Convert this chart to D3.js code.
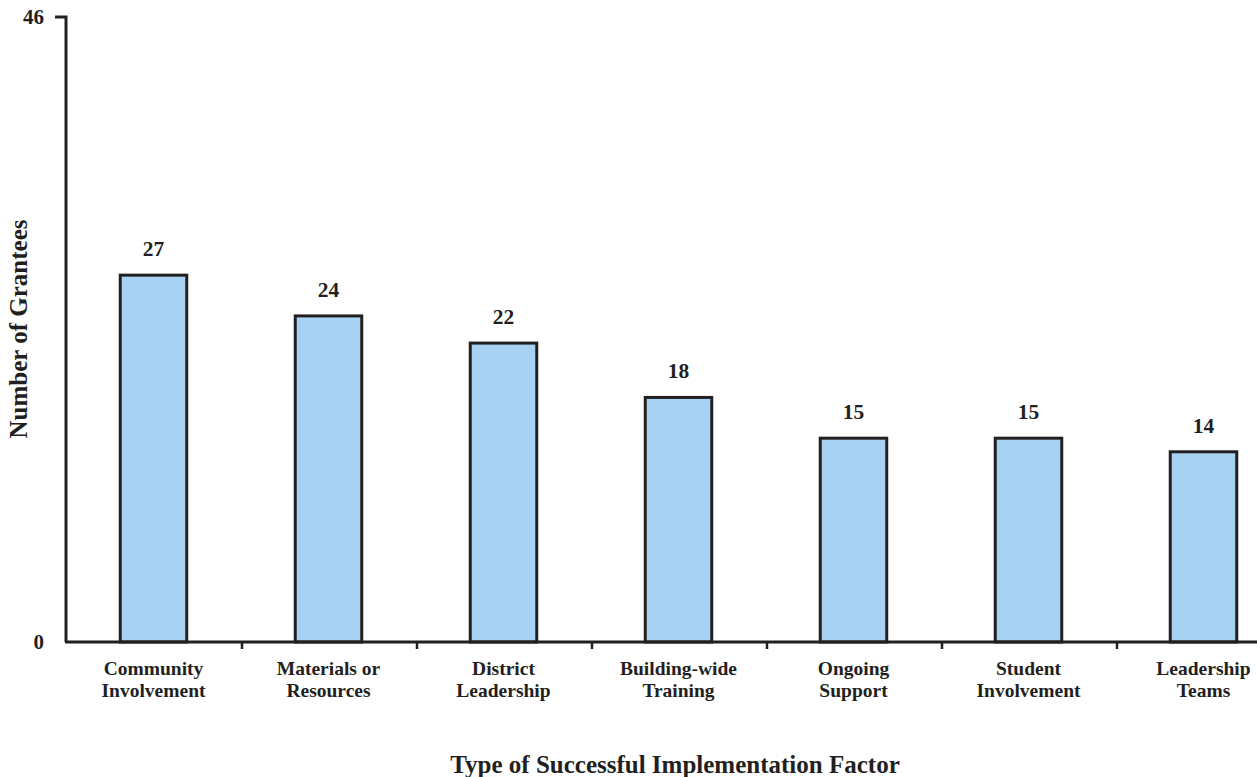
<!DOCTYPE html>
<html>
<head>
<meta charset="utf-8">
<script src="https://cdn.jsdelivr.net/npm/d3@7/dist/d3.min.js"></script>
<style>
  html, body { margin: 0; padding: 0; background: #ffffff; }
  svg { display: block; }
  text { font-family: "Liberation Serif", "Times New Roman", serif; font-weight: bold; fill: #231f20; }
</style>
</head>
<body>
<svg id="chart" width="1257" height="777"></svg>
<script>
// Successful implementation factors reported by grantees
const categories = [
  ["Community", "Involvement"],
  ["Materials or", "Resources"],
  ["District", "Leadership"],
  ["Building-wide", "Training"],
  ["Ongoing", "Support"],
  ["Student", "Involvement"],
  ["Leadership", "Teams"]
];
const values = [27, 24, 22, 18, 15, 15, 14];
const yTicks = [0, 46];
const xTitle = "Type of Successful Implementation Factor";
const yTitle = "Number of Grantees";

const svg = d3.select("#chart");
const plotLeft = 66, plotTop = 17, plotBottom = 642;
const ink = "#231f20";

const x = d3.scaleBand()
  .domain(d3.range(categories.length))
  .range([plotLeft, plotLeft + 175 * categories.length])
  .paddingInner(0.62)
  .paddingOuter(0.31);

const y = d3.scaleLinear().domain([0, 46]).range([plotBottom, plotTop]);

// bars
svg.append("g").selectAll("rect")
  .data(values)
  .join("rect")
  .attr("x", (d, i) => x(i))
  .attr("y", d => y(d))
  .attr("width", x.bandwidth())
  .attr("height", d => y(0) - y(d))
  .attr("fill", "#a7d2f1")
  .attr("stroke", ink)
  .attr("stroke-width", 3);

// value labels
svg.append("g").selectAll("text")
  .data(values)
  .join("text")
  .attr("x", (d, i) => x(i) + x.bandwidth() / 2)
  .attr("y", d => y(d) - 19)
  .attr("text-anchor", "middle")
  .attr("font-size", 21.5)
  .text(d => d);

// y axis line and top tick
svg.append("path")
  .attr("d", `M${plotLeft - 11},${y(46)}H${plotLeft}V${plotBottom}`)
  .attr("fill", "none")
  .attr("stroke", ink)
  .attr("stroke-width", 3);

svg.append("g").selectAll("text")
  .data(yTicks)
  .join("text")
  .attr("x", 44)
  .attr("y", d => y(d) + 7)
  .attr("text-anchor", "end")
  .attr("font-size", 21)
  .text(d => d);

// x axis line with dividers between categories
svg.append("line")
  .attr("x1", plotLeft - 1).attr("x2", 1257)
  .attr("y1", plotBottom).attr("y2", plotBottom)
  .attr("stroke", ink)
  .attr("stroke-width", 3);

const gap = x.step() - x.bandwidth();
svg.append("g").selectAll("line")
  .data(d3.range(1, categories.length))
  .join("line")
  .attr("x1", i => x(i) - gap / 2 + 1)
  .attr("x2", i => x(i) - gap / 2 + 1)
  .attr("y1", plotBottom)
  .attr("y2", plotBottom + 7)
  .attr("stroke", ink)
  .attr("stroke-width", 2.5);

// category labels
const catG = svg.append("g").selectAll("text")
  .data(categories)
  .join("text")
  .attr("text-anchor", "middle")
  .attr("font-size", 19.5);
catG.selectAll("tspan")
  .data((d, i) => d.map(t => ({ t, i })))
  .join("tspan")
  .attr("x", d => x(d.i) + x.bandwidth() / 2)
  .attr("y", (d, j) => 675 + j * 22)
  .text(d => d.t);

// axis titles
svg.append("text")
  .attr("x", 675)
  .attr("y", 773)
  .attr("text-anchor", "middle")
  .attr("font-size", 25)
  .text(xTitle);

svg.append("text")
  .attr("transform", `translate(27,329) rotate(-90)`)
  .attr("text-anchor", "middle")
  .attr("font-size", 25)
  .text(yTitle);
</script>
</body>
</html>
